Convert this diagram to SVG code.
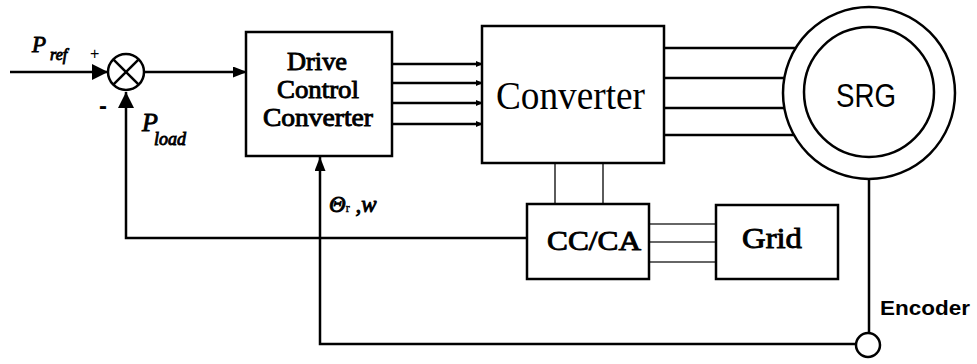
<svg xmlns="http://www.w3.org/2000/svg" width="977" height="364" viewBox="0 0 977 364">
<style>
.ln{fill:none;stroke:#000;stroke-width:2.5}
.th{fill:none;stroke:#333;stroke-width:1.6}
.bx{fill:#fff;stroke:#000;stroke-width:2.5}
.fb{font-family:"Liberation Serif","Times New Roman",serif;font-weight:400;fill:#000;stroke:#000;stroke-width:0.9}
</style>
<defs>
<marker id="aBig" markerUnits="userSpaceOnUse" markerWidth="17" markerHeight="17" refX="16" refY="8" orient="auto"><path d="M0,0 L16,8 L0,16 z" fill="#000"/></marker>
<marker id="aMid" markerUnits="userSpaceOnUse" markerWidth="15" markerHeight="12" refX="14" refY="5.5" orient="auto"><path d="M0,0 L14,5.5 L0,11 z" fill="#000"/></marker>
<marker id="aSm" markerUnits="userSpaceOnUse" markerWidth="8" markerHeight="7" refX="7" refY="3" orient="auto"><path d="M0,0 L7,3 L0,6 z" fill="#000"/></marker>
</defs>
<g id="connectors">
<line class="ln" x1="10" y1="72" x2="108" y2="72" marker-end="url(#aBig)"/>
<line class="ln" x1="144" y1="72" x2="247" y2="72" marker-end="url(#aMid)"/>
<polyline class="ln" points="535,238 126,238 126,92" marker-end="url(#aBig)"/>
<polyline class="ln" points="856,344 320,344 320,157" marker-end="url(#aMid)"/>
<line class="ln" x1="392" y1="64" x2="483" y2="64" marker-end="url(#aSm)"/>
<line class="ln" x1="392" y1="83" x2="483" y2="83" marker-end="url(#aSm)"/>
<line class="ln" x1="392" y1="103" x2="483" y2="103" marker-end="url(#aSm)"/>
<line class="ln" x1="392" y1="124" x2="483" y2="124" marker-end="url(#aSm)"/>
<line class="ln" x1="664" y1="48" x2="860" y2="48"/>
<line class="ln" x1="664" y1="78" x2="860" y2="78"/>
<line class="ln" x1="664" y1="108" x2="860" y2="108"/>
<line class="ln" x1="664" y1="135" x2="860" y2="135"/>
<line class="th" x1="555" y1="163" x2="555" y2="204"/>
<line class="th" x1="603" y1="163" x2="603" y2="204"/>
<line class="th" x1="649" y1="224" x2="716" y2="224"/>
<line class="th" x1="649" y1="242" x2="716" y2="242"/>
<line class="th" x1="649" y1="262" x2="716" y2="262"/>
<line class="ln" x1="869" y1="178" x2="869" y2="333"/>
</g>
<g id="labels">
<text class="fb" x="32" y="52" font-size="23" font-style="italic">P</text>
<text class="fb" x="50" y="60" font-size="16" font-style="italic" stroke-width="0.6">ref</text>
<text x="90" y="59" font-size="16" font-family="Liberation Sans, sans-serif">+</text>
<text x="99" y="114" font-size="24" font-weight="700" font-family="Liberation Sans, sans-serif">-</text>
<text class="fb" x="142" y="131" font-size="26" font-style="italic">P</text>
<text class="fb" x="154" y="145" font-size="18" font-style="italic" stroke-width="0.7">load</text>
<text class="fb" x="329" y="212" font-size="23" font-style="italic">Θ<tspan font-size="12" font-style="normal" stroke-width="0.4">r</tspan> ,w</text>
</g>
<g id="sum">
<circle class="bx" cx="126" cy="72" r="18"/>
<line class="ln" x1="113.3" y1="59.3" x2="138.7" y2="84.7"/>
<line class="ln" x1="113.3" y1="84.7" x2="138.7" y2="59.3"/>
</g>
<g id="drive">
<rect class="bx" x="246" y="32" width="146" height="124"/>
<text class="fb" x="317" y="70" font-size="25" text-anchor="middle" textLength="60" lengthAdjust="spacingAndGlyphs">Drive</text>
<text class="fb" x="318" y="98" font-size="25" text-anchor="middle" textLength="82" lengthAdjust="spacingAndGlyphs">Control</text>
<text class="fb" x="318" y="126" font-size="25" text-anchor="middle" textLength="110" lengthAdjust="spacingAndGlyphs">Converter</text>
</g>
<g id="converter">
<rect class="bx" x="482" y="26" width="182" height="137"/>
<text x="496" y="109" font-family="Liberation Serif, Times New Roman, serif" font-size="40" textLength="149" lengthAdjust="spacingAndGlyphs">Converter</text>
</g>
<g id="srg">
<circle class="bx" cx="869" cy="93" r="86"/>
<circle class="bx" cx="869" cy="92" r="65"/>
<text x="836" y="107" font-family="Liberation Sans, Arial, sans-serif" font-size="34" textLength="60" lengthAdjust="spacingAndGlyphs">SRG</text>
</g>
<g id="ccca">
<rect class="bx" x="527" y="204" width="122" height="75"/>
<text class="fb" x="594" y="250" font-size="28" text-anchor="middle" textLength="94" lengthAdjust="spacingAndGlyphs">CC/CA</text>
</g>
<g id="grid">
<rect class="bx" x="716" y="205" width="122" height="74"/>
<text class="fb" x="772" y="248" font-size="29" text-anchor="middle" textLength="60" lengthAdjust="spacingAndGlyphs">Grid</text>
</g>
<g id="encoder">
<circle class="bx" cx="868" cy="345" r="12"/>
<text x="880" y="315" font-family="Liberation Sans, Arial, sans-serif" font-size="21" font-weight="700" textLength="90" lengthAdjust="spacingAndGlyphs">Encoder</text>
</g>
</svg>
